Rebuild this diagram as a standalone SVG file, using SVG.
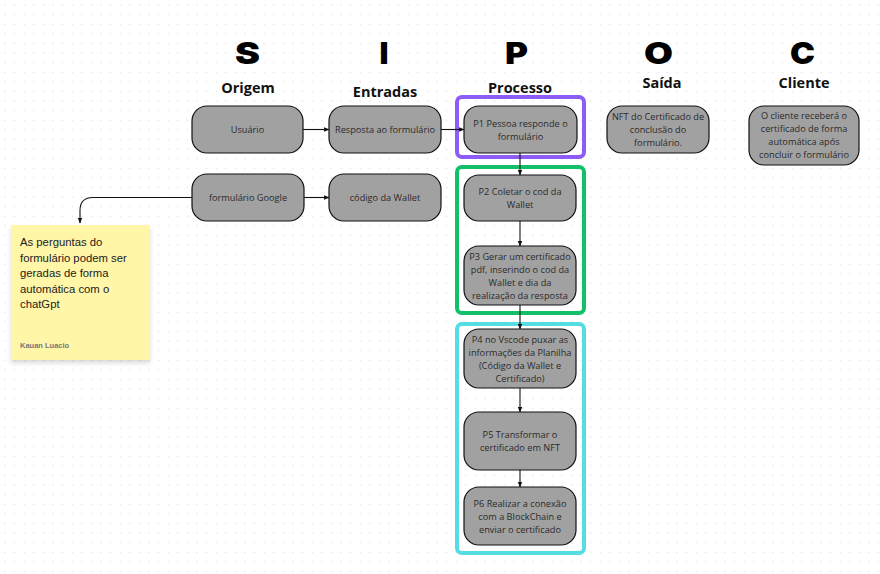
<svg xmlns="http://www.w3.org/2000/svg" width="880" height="574" viewBox="0 0 880 574">
<defs>
<pattern id="grid" x="0" y="0" width="9.6" height="9.6" patternUnits="userSpaceOnUse">
<circle cx="5" cy="5" r="0.75" fill="#dedede"/>
</pattern>
<marker id="arr" viewBox="0 0 10 10" refX="9" refY="5" markerWidth="5" markerHeight="5" orient="auto">
<path d="M0,1 L10,5 L0,9 z" fill="#111"/>
</marker>
<filter id="sh" x="-10%" y="-10%" width="120%" height="130%">
<feDropShadow dx="0" dy="3" stdDeviation="2" flood-color="#000" flood-opacity="0.15"/>
</filter>
</defs>
<style>
.node{fill:#a1a1a1;stroke:#111;stroke-width:1.2}
.nt{font-family:"Open Sans","Noto Sans","Liberation Sans",sans-serif;font-size:9.2px;fill:#2b2b2b;text-anchor:middle}
.big{font-family:Inter,"Liberation Sans",sans-serif;font-weight:900;font-size:30px;fill:#000;text-anchor:middle}
.hd{font-family:"Open Sans","Noto Sans","Liberation Sans",sans-serif;font-weight:bold;font-size:14.5px;fill:#111;text-anchor:middle}
.con{fill:none;stroke:#111;stroke-width:1.1;marker-end:url(#arr)}
.grp{fill:none;stroke-width:4}
</style>
<rect width="880" height="574" fill="#ffffff"/>
<rect width="880" height="574" fill="url(#grid)"/>

<g id="letters">
<text class="big" x="247.5" y="64" textLength="25" lengthAdjust="spacingAndGlyphs">S</text>
<text class="big" x="384" y="64" textLength="9" lengthAdjust="spacingAndGlyphs">I</text>
<text class="big" x="516.5" y="64" textLength="23" lengthAdjust="spacingAndGlyphs">P</text>
<text class="big" x="658.5" y="64" textLength="29" lengthAdjust="spacingAndGlyphs">O</text>
<text class="big" x="802.5" y="64" textLength="25" lengthAdjust="spacingAndGlyphs">C</text>
</g>
<g id="headings">
<text class="hd" x="248" y="93">Origem</text>
<text class="hd" x="385" y="97">Entradas</text>
<text class="hd" x="520" y="93">Processo</text>
<text class="hd" x="662" y="88">Saída</text>
<text class="hd" x="804" y="88">Cliente</text>
</g>

<g id="group-p1"><rect class="grp" x="457" y="97" width="127" height="60" rx="5" stroke="#8b5cf6"/></g>
<g id="group-p2p3"><rect class="grp" x="457" y="167" width="127" height="146" rx="5" stroke="#12c06a"/></g>
<g id="group-p4p6"><rect class="grp" x="457" y="324" width="127" height="229" rx="5" stroke="#56dde3"/></g>

<g id="connectors">
<line class="con" x1="303" y1="129.5" x2="329" y2="129.5"/>
<line class="con" x1="441" y1="129.5" x2="464" y2="129.5"/>
<line class="con" x1="304" y1="197.5" x2="329" y2="197.5"/>
<path class="con" d="M192,197.5 L93,197.5 Q80,197.5 80,210.5 L80,223"/>
<line class="con" x1="520" y1="153" x2="520" y2="175"/>
<line class="con" x1="520" y1="221" x2="520" y2="246"/>
<line class="con" x1="520" y1="305" x2="520" y2="329"/>
<line class="con" x1="520" y1="388" x2="520" y2="412"/>
<line class="con" x1="520" y1="470" x2="520" y2="487"/>
</g>

<g id="usuario"><rect class="node" x="192" y="106" width="111" height="47" rx="15"/>
<text class="nt" x="247.5" y="133">Usuário</text></g>
<g id="resposta"><rect class="node" x="329" y="106" width="112" height="47" rx="15"/>
<text class="nt" x="385" y="133">Resposta ao formulário</text></g>
<g id="p1"><rect class="node" x="464" y="106" width="113" height="47" rx="15"/>
<text class="nt" x="520.5" y="127">P1 Pessoa responde o</text>
<text class="nt" x="520.5" y="140">formulário</text></g>
<g id="nft"><rect class="node" x="607" y="106" width="102" height="47" rx="15"/>
<text class="nt" x="658" y="120">NFT do Certificado de</text>
<text class="nt" x="658" y="133">conclusão do</text>
<text class="nt" x="658" y="146">formulário.</text></g>
<g id="cliente"><rect class="node" x="749" y="106" width="110" height="59" rx="15"/>
<text class="nt" x="804" y="119">O cliente receberá o</text>
<text class="nt" x="804" y="132">certificado de forma</text>
<text class="nt" x="804" y="145">automática após</text>
<text class="nt" x="804" y="158">concluir o formulário</text></g>

<g id="form-google"><rect class="node" x="192" y="174" width="112" height="47" rx="15"/>
<text class="nt" x="248" y="201">formulário Google</text></g>
<g id="codigo-wallet"><rect class="node" x="329" y="174" width="112" height="47" rx="15"/>
<text class="nt" x="385" y="201">código da Wallet</text></g>

<g id="p2"><rect class="node" x="464" y="175" width="112" height="46" rx="15"/>
<text class="nt" x="520" y="195">P2 Coletar o cod da</text>
<text class="nt" x="520" y="208">Wallet</text></g>
<g id="p3"><rect class="node" x="464" y="246" width="112" height="59" rx="15"/>
<text class="nt" x="520" y="260">P3 Gerar um certificado</text>
<text class="nt" x="520" y="273">pdf, inserindo o cod da</text>
<text class="nt" x="520" y="286">Wallet e dia da</text>
<text class="nt" x="520" y="299">realização da resposta</text></g>
<g id="p4"><rect class="node" x="464" y="329" width="112" height="59" rx="15"/>
<text class="nt" x="520" y="343">P4 no Vscode puxar as</text>
<text class="nt" x="520" y="356">informações da Planilha</text>
<text class="nt" x="520" y="369">(Código da Wallet e</text>
<text class="nt" x="520" y="382">Certificado)</text></g>
<g id="p5"><rect class="node" x="464" y="412" width="112" height="58" rx="15"/>
<text class="nt" x="520" y="438">P5 Transformar o</text>
<text class="nt" x="520" y="451">certificado em NFT</text></g>
<g id="p6"><rect class="node" x="464" y="487" width="112" height="58" rx="15"/>
<text class="nt" x="520" y="507">P6 Realizar a conexão</text>
<text class="nt" x="520" y="520">com a BlockChain e</text>
<text class="nt" x="520" y="533">enviar o certificado</text></g>

<g id="note">
<rect x="11" y="225" width="139" height="135" fill="#fff6a8" filter="url(#sh)"/>
<g font-family="'Liberation Sans',Arial,sans-serif" font-size="11.3" fill="#222">
<text x="20" y="246">As perguntas do</text>
<text x="20" y="261.5">formulário podem ser</text>
<text x="20" y="277">geradas de forma</text>
<text x="20" y="292.5">automática com o</text>
<text x="20" y="308">chatGpt</text>
</g>
<text x="20" y="348" font-family="'Liberation Sans',Arial,sans-serif" font-size="7.5" font-weight="bold" fill="#777">Kauan Luacio</text>
</g>
</svg>
